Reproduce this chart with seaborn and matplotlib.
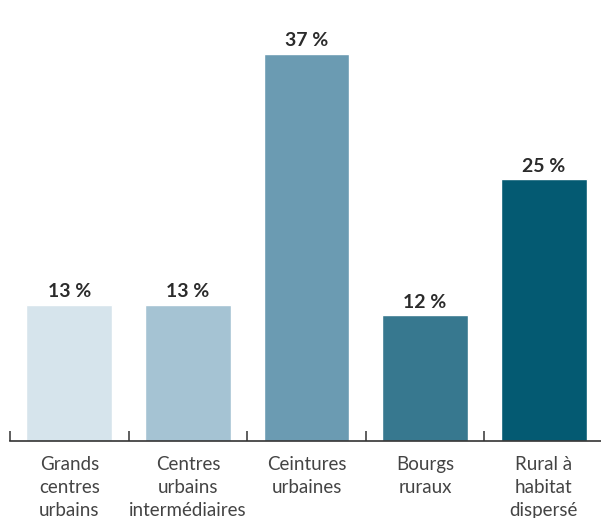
import matplotlib
matplotlib.use("Agg")
import matplotlib.pyplot as plt
import seaborn as sns
import pandas as pd
from matplotlib.ticker import FixedLocator

categories = [
    "Grands\ncentres\nurbains",
    "Centres\nurbains\nintermédiaires",
    "Ceintures\nurbaines",
    "Bourgs\nruraux",
    "Rural à\nhabitat\ndispersé",
]
values = [13, 13, 37, 12, 25]
value_labels = ["13 %", "13 %", "37 %", "12 %", "25 %"]
colors = ["#d6e4ec", "#a5c3d3", "#6b9bb2", "#37788f", "#045a72"]

df = pd.DataFrame({"categorie": categories, "part": values})

sns.set_style("white")
plt.rcParams["font.family"] = ["Lato", "DejaVu Sans"]

fig = plt.figure(figsize=(6.01, 5.18), dpi=100)
ax = fig.add_axes([10 / 601, 77 / 518, 593 / 601, 441 / 518])

sns.barplot(data=df, x="categorie", y="part", hue="categorie",
            palette=colors, width=0.725, saturation=1, legend=False, ax=ax)

ax.set_xlim(-0.5, 4.5)
ax.set_ylim(0, 441 / 10.47)

for i, (v, lab) in enumerate(zip(values, value_labels)):
    ax.text(i, v + 0.45, lab, ha="center", va="bottom",
            fontsize=14, fontweight="bold", color="#2b2b2b")

for side in ["top", "right", "left"]:
    ax.spines[side].set_visible(False)
ax.spines["bottom"].set_color("#333333")
ax.spines["bottom"].set_linewidth(1.2)

ax.set_yticks([])
ax.set_xlabel("")
ax.set_ylabel("")
ax.tick_params(axis="x", which="major", bottom=True, length=0, pad=10.5,
               labelsize=13.5, labelcolor="#444444")
for t in ax.get_xticklabels():
    t.set_linespacing(1.45)
ax.xaxis.set_minor_locator(FixedLocator([-0.5 + 0.003, 0.5, 1.5, 2.5, 3.5]))
ax.tick_params(axis="x", which="minor", bottom=True, direction="in",
               length=7, width=1.1, color="#333333")

fig.savefig("out.png", dpi=100)
